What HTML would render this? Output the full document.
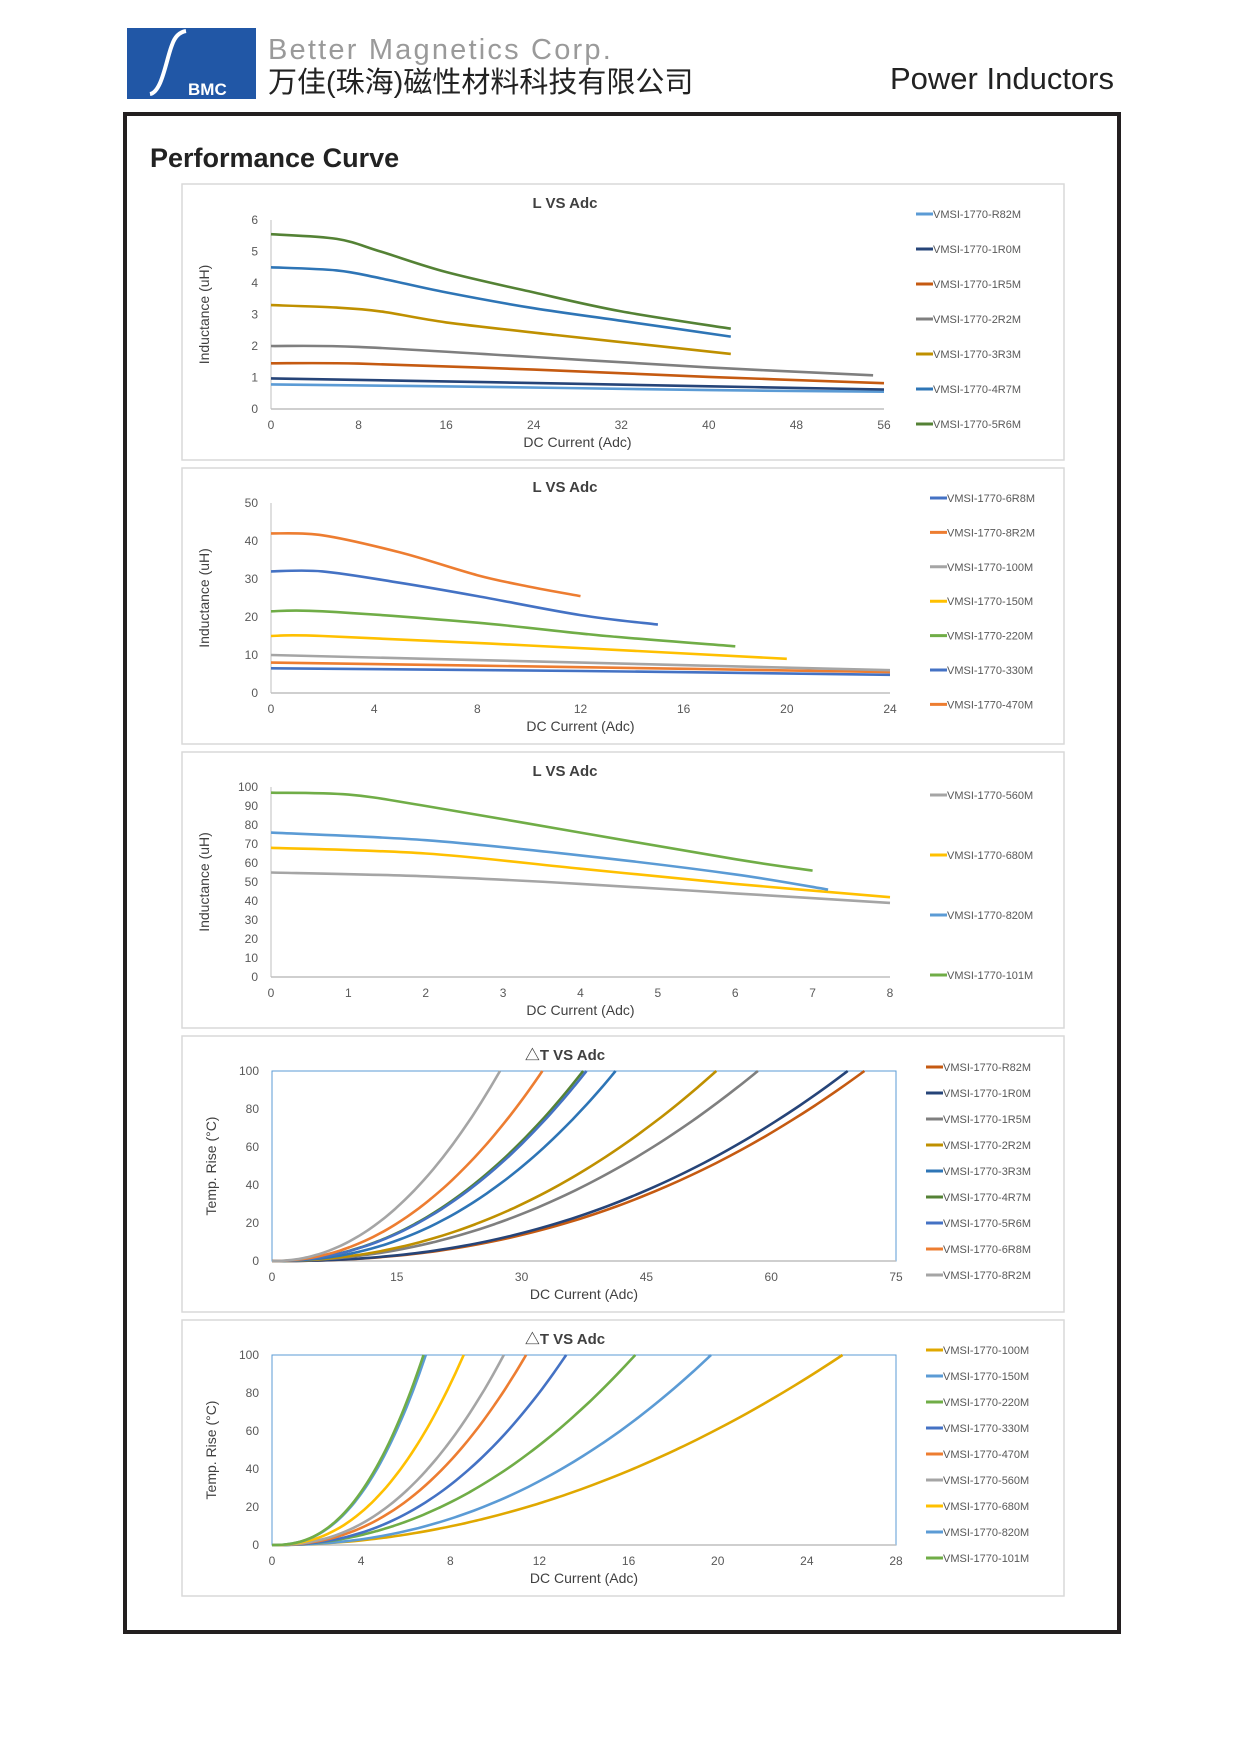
<!DOCTYPE html>
<html><head><meta charset="utf-8"><style>
html,body{margin:0;padding:0;background:#fff}
svg text{font-family:"Liberation Sans","Noto Sans CJK SC",sans-serif}
</style></head><body>
<svg id="s" width="1241" height="1755" viewBox="0 0 1241 1755" xmlns="http://www.w3.org/2000/svg">
<rect width="1241" height="1755" fill="#fff"/>
<rect x="127" y="28" width="129" height="71" fill="#2157a6"/>
<path d="M150 94 C162 92 166 60 172 45 C175 36 180 32 186 31" stroke="#fff" stroke-width="4" fill="none"/>
<text x="188" y="95" fill="#fff" font-size="17" font-weight="bold">BMC</text>
<text x="268" y="59" fill="#9a9a9a" font-size="29" letter-spacing="2.2">Better Magnetics Corp.</text>
<text x="268" y="92" fill="#222" font-size="29">万佳(珠海)磁性材料科技有限公司</text>
<text x="1114" y="89" fill="#222" font-size="31" text-anchor="end">Power Inductors</text>
<rect x="125" y="114" width="994" height="1518" fill="none" stroke="#231f20" stroke-width="4"/>
<text x="150" y="167" fill="#222" font-size="27" font-weight="bold">Performance Curve</text>
<g id="charts"></g>
</svg>
<script>
var NS="http://www.w3.org/2000/svg",G=document.getElementById('charts');
function el(t,a,txt){var e=document.createElementNS(NS,t);for(var k in a)e.setAttribute(k,a[k]);if(txt!=null)e.textContent=txt;G.appendChild(e);return e;}
function smooth(p){var d="M"+p[0][0].toFixed(1)+" "+p[0][1].toFixed(1);for(var i=0;i<p.length-1;i++){var p0=p[i-1]||p[i],p1=p[i],p2=p[i+1],p3=p[i+2]||p2;var c1=[p1[0]+(p2[0]-p0[0])/6,p1[1]+(p2[1]-p0[1])/6],c2=[p2[0]-(p3[0]-p1[0])/6,p2[1]-(p3[1]-p1[1])/6];d+="C"+c1[0].toFixed(1)+" "+c1[1].toFixed(1)+" "+c2[0].toFixed(1)+" "+c2[1].toFixed(1)+" "+p2[0].toFixed(1)+" "+p2[1].toFixed(1);}return d;}
function chart(c){
 var o=c.off||0;
 el('rect',{x:182,y:c.top,width:882,height:276,fill:'#fff',stroke:'#d9d9d9','stroke-width':1.5});
 el('text',{x:565,y:c.top+24,'font-size':15,'font-weight':'bold','text-anchor':'middle',fill:'#404040'},c.title);
 var x0=c.x0,x1=c.x1,y0=c.y0-o,y1=c.y1-o;
 function X(v){return x0+v/c.xmax*(x1-x0)}function Y(v){return y0-v/c.ymax*(y0-y1)}
 if(c.box)el('rect',{x:x0,y:y1,width:x1-x0,height:y0-y1,fill:'none',stroke:'#5b9bd5','stroke-width':1});
 else el('line',{x1:x0,y1:y1,x2:x0,y2:y0,stroke:'#bfbfbf','stroke-width':1});
 el('line',{x1:x0,y1:y0,x2:x1,y2:y0,stroke:'#bfbfbf','stroke-width':1.5});
 c.yt.forEach(function(v){el('text',{x:x0-13,y:Y(v)+4,'font-size':12,'text-anchor':'end',fill:'#595959'},v)});
 c.xt.forEach(function(v){el('text',{x:X(v),y:y0+20,'font-size':12,'text-anchor':'middle',fill:'#595959'},v)});
 el('text',{x:(x0+x1)/2,y:y0+38,'font-size':14,'text-anchor':'middle',fill:'#404040'},'DC Current (Adc)');
 var cy=(y0+y1)/2;el('text',{x:0,y:0,'font-size':14,'text-anchor':'middle',fill:'#404040',transform:'translate('+(c.box?216:209)+','+cy+') rotate(-90)'},c.ylab);
 c.series.forEach(function(s,i){
  var pts;
  if(s.pw){pts=[];for(var k=0;k<=24;k++){var x=s.pw[0]*k/24;pts.push([X(x),Y(100*Math.pow(k/24,s.pw[1]))]);}}
  else pts=s.d.map(function(q){return[X(q[0]),Y(q[1])]});
  el('path',{d:smooth(pts),stroke:s.c,'stroke-width':2.6,fill:'none'});
  var ly=c.ly0-o+i*c.lstep;
  el('line',{x1:c.lx,y1:ly,x2:c.lx+17,y2:ly,stroke:s.c,'stroke-width':3});
  el('text',{x:c.lx+17,y:ly+4,'font-size':11,fill:'#595959'},s.n);
 });
}
chart({top:184,off:0,title:'L VS Adc',x0:271,x1:884,y0:409,y1:220,xmax:56,ymax:6,yt:[0,1,2,3,4,5,6],xt:[0,8,16,24,32,40,48,56],ylab:'Inductance (uH)',lx:916,ly0:214,lstep:35,series:[
{n:'VMSI-1770-R82M',c:'#5b9bd5',d:[[0,0.78],[20,0.7],[40,0.6],[56,0.55]]},
{n:'VMSI-1770-1R0M',c:'#264478',d:[[0,0.97],[20,0.85],[40,0.72],[56,0.62]]},
{n:'VMSI-1770-1R5M',c:'#c55a11',d:[[0,1.45],[8,1.44],[24,1.25],[40,1.02],[56,0.82]]},
{n:'VMSI-1770-2R2M',c:'#7f7f7f',d:[[0,2.0],[8,1.97],[24,1.65],[40,1.32],[55,1.07]]},
{n:'VMSI-1770-3R3M',c:'#bf9000',d:[[0,3.3],[6,3.22],[10,3.1],[16,2.75],[26,2.35],[34,2.05],[42,1.75]]},
{n:'VMSI-1770-4R7M',c:'#2e75b6',d:[[0,4.5],[6,4.4],[10,4.15],[16,3.7],[24,3.2],[32,2.8],[42,2.3]]},
{n:'VMSI-1770-5R6M',c:'#548235',d:[[0,5.55],[6,5.4],[10,5.0],[16,4.35],[24,3.7],[32,3.1],[42,2.55]]}]});
chart({top:468,off:2,title:'L VS Adc',x0:271,x1:890,y0:695,y1:505,xmax:24,ymax:50,yt:[0,10,20,30,40,50],xt:[0,4,8,12,16,20,24],ylab:'Inductance (uH)',lx:930,ly0:500,lstep:34.4,series:[
{n:'VMSI-1770-6R8M',c:'#4472c4',d:[[0,6.5],[12,5.8],[24,4.8]]},
{n:'VMSI-1770-8R2M',c:'#ed7d31',d:[[0,8],[12,6.8],[24,5.5]]},
{n:'VMSI-1770-100M',c:'#a5a5a5',d:[[0,10],[12,8],[24,6]]},
{n:'VMSI-1770-150M',c:'#ffc000',d:[[0,15],[2,15],[10,12.5],[20,9]]},
{n:'VMSI-1770-220M',c:'#70ad47',d:[[0,21.5],[2,21.5],[8,18.5],[13,15],[18,12.3]]},
{n:'VMSI-1770-330M',c:'#4472c4',d:[[0,32],[2,32],[5,29],[8,25.5],[12,20.5],[15,18]]},
{n:'VMSI-1770-470M',c:'#ed7d31',d:[[0,42],[2,41.5],[5,37],[8,31],[10,28],[12,25.5]]}]});
chart({top:752,off:4,title:'L VS Adc',x0:271,x1:890,y0:981,y1:791,xmax:8,ymax:100,yt:[0,10,20,30,40,50,60,70,80,90,100],xt:[0,1,2,3,4,5,6,7,8],ylab:'Inductance (uH)',lx:930,ly0:799,lstep:60,series:[
{n:'VMSI-1770-560M',c:'#a5a5a5',d:[[0,55],[2,53],[4,49],[6,44],[8,39]]},
{n:'VMSI-1770-680M',c:'#ffc000',d:[[0,68],[2,65],[4,57],[6,49],[8,42]]},
{n:'VMSI-1770-820M',c:'#5b9bd5',d:[[0,76],[2,72],[4,64],[6,54],[7.2,46]]},
{n:'VMSI-1770-101M',c:'#70ad47',d:[[0,97],[1,96],[2,90],[4,76],[6,62],[7,56]]}]});
chart({top:1036,off:5,title:'△T VS Adc',box:1,x0:272,x1:896,y0:1266,y1:1076,xmax:75,ymax:100,yt:[0,20,40,60,80,100],xt:[0,15,30,45,60,75],ylab:'Temp. Rise (°C)',lx:926,ly0:1072,lstep:26,series:[
{n:'VMSI-1770-R82M',c:'#c55a11',pw:[71.2,2.3]},
{n:'VMSI-1770-1R0M',c:'#264478',pw:[69.2,2.3]},
{n:'VMSI-1770-1R5M',c:'#7f7f7f',pw:[58.4,2.1]},
{n:'VMSI-1770-2R2M',c:'#bf9000',pw:[53.4,2.1]},
{n:'VMSI-1770-3R3M',c:'#2e75b6',pw:[41.3,2.2]},
{n:'VMSI-1770-4R7M',c:'#548235',pw:[37.4,2.1]},
{n:'VMSI-1770-5R6M',c:'#4472c4',pw:[37.8,2.1]},
{n:'VMSI-1770-6R8M',c:'#ed7d31',pw:[32.5,2.1]},
{n:'VMSI-1770-8R2M',c:'#a5a5a5',pw:[27.4,2.1]}]});
chart({top:1320,off:7,title:'△T VS Adc',box:1,x0:272,x1:896,y0:1552,y1:1362,xmax:28,ymax:100,yt:[0,20,40,60,80,100],xt:[0,4,8,12,16,20,24,28],ylab:'Temp. Rise (°C)',lx:926,ly0:1357,lstep:26,series:[
{n:'VMSI-1770-100M',c:'#e0a800',pw:[25.6,2.0]},
{n:'VMSI-1770-150M',c:'#5b9bd5',pw:[19.7,2.2]},
{n:'VMSI-1770-220M',c:'#70ad47',pw:[16.3,2.1]},
{n:'VMSI-1770-330M',c:'#4472c4',pw:[13.2,2.3]},
{n:'VMSI-1770-470M',c:'#ed7d31',pw:[11.4,2.3]},
{n:'VMSI-1770-560M',c:'#a5a5a5',pw:[10.4,2.3]},
{n:'VMSI-1770-680M',c:'#ffc000',pw:[8.6,2.3]},
{n:'VMSI-1770-820M',c:'#5b9bd5',pw:[6.9,2.4]},
{n:'VMSI-1770-101M',c:'#70ad47',pw:[6.8,2.4]}]});
</script>
</body></html>
